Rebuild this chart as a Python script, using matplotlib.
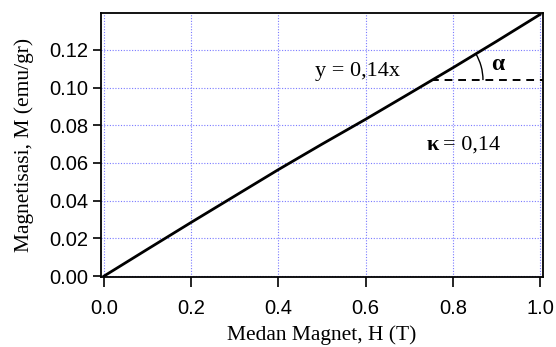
import matplotlib
matplotlib.use("Agg")
import matplotlib.pyplot as plt
import numpy as np
from matplotlib.patches import Arc

H = [0.0, 0.1, 0.2, 0.3, 0.4, 0.5, 0.6, 0.7, 0.8, 0.9, 1.0]
M = [0.0, 0.0143, 0.0285, 0.0425, 0.0565, 0.0700, 0.0832, 0.0968, 0.1105, 0.1245, 0.1388]
xticks = [0.0, 0.2, 0.4, 0.6, 0.8, 1.0]
xticklabels = ["0.0", "0.2", "0.4", "0.6", "0.8", "1.0"]
yticks = [0.00, 0.02, 0.04, 0.06, 0.08, 0.10, 0.12]
yticklabels = ["0.00", "0.02", "0.04", "0.06", "0.08", "0.10", "0.12"]
dash_x = [0.75, 1.007]
dash_y = 0.104

fig = plt.figure(figsize=(5.56, 3.47), dpi=100)
ax = fig.add_axes([101/556, 1-277/347, (543-101)/556, (277-13)/347])
ax.plot(H, M, color="black", lw=2.0, zorder=3)
ax.plot(dash_x, [dash_y, dash_y], color="black", lw=1.4, ls=(0, (4, 3)), zorder=3)

ax.set_xlim(-0.007, 1.007)
ax.set_ylim(-0.0005, 0.1396)
ax.set_xticks(xticks)
ax.set_xticklabels(xticklabels, family="Liberation Sans", fontsize=14.5)
ax.set_yticks(yticks)
ax.set_yticklabels(yticklabels, family="Liberation Sans", fontsize=14.5)
ax.tick_params(axis="x", direction="out", length=7, width=1.2, colors="black", pad=9)
ax.tick_params(axis="y", direction="out", length=6, width=1.2, colors="black", pad=3)
ax.grid(True, color="#7a7aff", ls=(0, (1, 1.5)), lw=0.8)
for s in ax.spines.values():
    s.set_linewidth(1.3)

ax.set_xlabel("Medan Magnet, H (T)", family="Liberation Serif", fontsize=15.5, labelpad=5)
ax.set_ylabel("Magnetisasi, M (emu/gr)", family="Liberation Serif", fontsize=15.5, labelpad=11)

# arc for alpha
trans = ax.transData
p0 = trans.transform((0.75, dash_y))
p1 = trans.transform((1.0, 0.1388))
ang = np.degrees(np.arctan2(p1[1]-p0[1], p1[0]-p0[0]))
r_px = 104
arc = Arc(p0, r_px, r_px, theta1=0, theta2=ang, transform=None, color="black", lw=1.0)
fig.add_artist(arc)

ax.text(0.485, 0.1085, "y = 0,14x", family="Liberation Serif", fontsize=16, ha="left", va="center")
ax.text(0.887, 0.1125, "α", family="Liberation Serif", fontsize=17, fontweight="bold", ha="left", va="center")
ax.text(0.741, 0.0695, "κ", family="Liberation Serif", fontsize=16, fontweight="bold", ha="left", va="center")
ax.text(0.778, 0.0695, "= 0,14", family="Liberation Serif", fontsize=16, ha="left", va="center")

fig.savefig("out.png", dpi=100)
